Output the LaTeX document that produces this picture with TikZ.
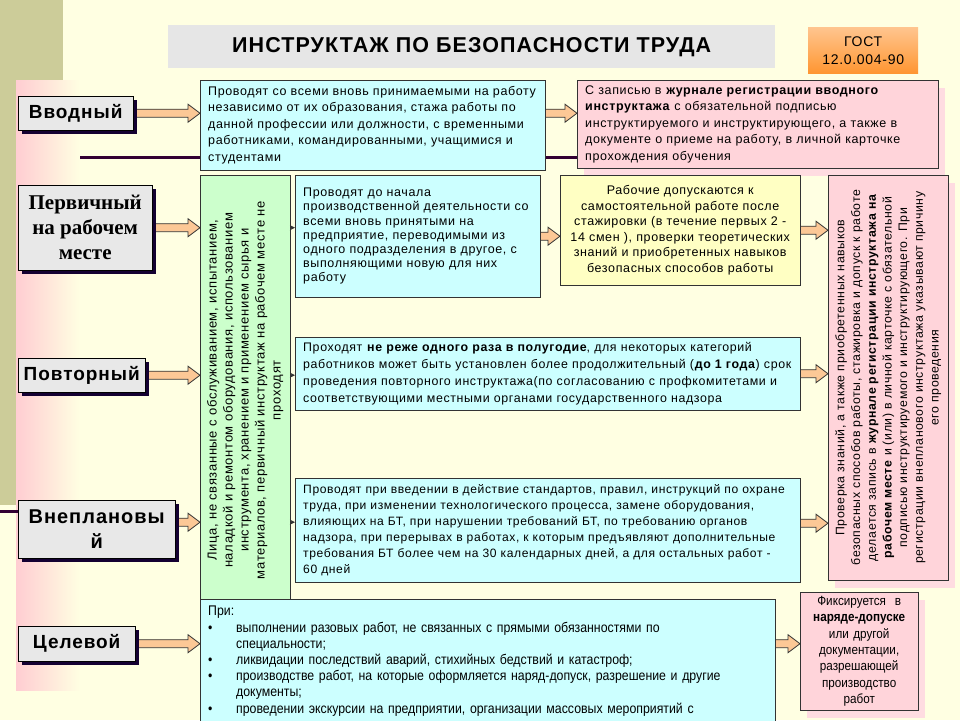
\documentclass[tikz,border=0pt]{standalone}
\usepackage{fontspec}
\setmainfont{Liberation Sans}[LetterSpace=5]
\newfontfamily\timesfont{Liberation Serif}
\newfontfamily\narrowfont[FakeStretch=0.88]{Liberation Sans}
\usepackage{tikz}
\usetikzlibrary{arrows.meta,positioning,calc,shadows}

\definecolor{PageBg}{RGB}{255,255,226}
\definecolor{Olive}{RGB}{204,204,153}
\definecolor{StripPink}{RGB}{255,205,210}
\definecolor{TitleGray}{RGB}{230,230,230}
\definecolor{GostOrange}{RGB}{255,150,50}
\definecolor{LabelGray}{RGB}{232,232,232}
\definecolor{ShadowNavy}{RGB}{20,0,50}
\definecolor{BoxCyan}{RGB}{204,255,255}
\definecolor{BoxPink}{RGB}{255,212,218}
\definecolor{PinkShade}{RGB}{255,220,225}
\definecolor{BoxGreen}{RGB}{204,255,204}
\definecolor{BoxYellow}{RGB}{255,255,195}
\definecolor{ArrowOrange}{RGB}{252,200,150}
\definecolor{EdgeDark}{RGB}{51,51,51}
\definecolor{LinePurple}{RGB}{51,0,51}

\pgfdeclarelayer{back}
\pgfdeclarelayer{links}
\pgfsetlayers{back,links,main}

% wide orange arrow between two points, same height as the first one
\newcommand{\blockarrow}[2]{%
  \draw[flow] let \p1=(#1), \p2=(#2) in
    (\x1,\y1+4pt) -- (\x2-12pt,\y1+4pt) -- (\x2-12pt,\y1+9pt) -- (\x2,\y1)
    -- (\x2-12pt,\y1-9pt) -- (\x2-12pt,\y1-4pt) -- (\x1,\y1-4pt) -- cycle;}

\begin{document}
\begin{tikzpicture}[
        x=1pt, y=-1pt,
        lbl/.style={draw=black, fill=LabelGray, anchor=north west, inner sep=0pt, align=center,
                    font=\fontsize{19}{23}\selectfont\bfseries,
                    drop shadow={shadow xshift=4pt, shadow yshift=-4pt, fill=ShadowNavy, opacity=1}},
        txt/.style={draw=EdgeDark, anchor=north west, inner xsep=8pt, inner ysep=0pt, align=left,
                    font=\fontsize{12.5}{16.5}\selectfont},
        pinkbox/.style={txt, fill=BoxPink,
                    drop shadow={shadow xshift=7pt, shadow yshift=-8pt, fill=PinkShade, opacity=1}},
        flow/.style={draw=EdgeDark, fill=ArrowOrange, line width=0.8pt},
        tip/.style={-{Stealth[length=5pt,width=5pt]}, EdgeDark, line width=0.8pt}
    ]
    \useasboundingbox (0,0) rectangle (960,720);

    % page decoration
    \begin{pgfonlayer}{back}
        \fill[PageBg] (0,0) rectangle (960,720);
        \fill[Olive] (0,0) rectangle (63,80);
        \fill[Olive] (0,80) rectangle (16,505);
        \shade[left color=StripPink, right color=PageBg] (16,80) rectangle (80,690);
        \draw[LinePurple, line width=3pt] (80,157) -- (577,157);
        \draw[LinePurple, line width=3pt] (0,511) -- (20,511);
    \end{pgfonlayer}

    % header
    \node[fill=TitleGray, anchor=north west, minimum width=607, minimum height=43,
          font=\fontsize{21.5}{24}\selectfont\bfseries] (title) at (168,25) {ИНСТРУКТАЖ ПО БЕЗОПАСНОСТИ ТРУДА};
    \node[top color=GostOrange!55, bottom color=GostOrange, anchor=north west, minimum width=110,
          minimum height=46, align=center, font=\fontsize{14}{18}\selectfont] (gost) at (808,27) {ГОСТ\\12.0.004-90};

    % kinds of instruction
    \node[lbl, minimum width=115, minimum height=34] (vvod) at (18,96) {Вводный};
    \node[lbl, minimum width=134, minimum height=85, font=\fontsize{21}{25}\selectfont\timesfont\bfseries]
          (perv) at (18,185) {Первичный\\на рабочем\\месте};
    \node[lbl, minimum width=127, minimum height=34] (povt) at (18,358) {Повторный};
    \node[lbl, minimum width=157, minimum height=58, font=\fontsize{20}{25}\selectfont\bfseries]
          (vnepl) at (18,500) {Внеплановы\\й};
    \node[lbl, minimum width=117, minimum height=35] (celev) at (18,626) {Целевой};

    % Вводный
    \node[txt, fill=BoxCyan, text width=329, minimum height=90] (c1) at (200,80)
        {Проводят со всеми вновь принимаемыми на работу\\
         независимо от их образования, стажа работы по\\
         данной профессии или должности, с временными\\
         работниками, командированными, учащимися и\\
         студентами};
    \node[pinkbox, text width=345, minimum height=88] (p1) at (577,80)
        {С записью в \textbf{журнале регистрации вводного}\\
         \textbf{инструктажа} с обязательной подписью\\
         инструктируемого и инструктирующего, а также в\\
         документе о приеме на работу, в личной карточке\\
         прохождения обучения};

    % exempt persons
    \node[txt, fill=BoxGreen, minimum width=90, minimum height=430, inner sep=0pt, align=center] (green) at (200,175)
        {\rotatebox{90}{\parbox{420pt}{\centering\fontsize{13}{16}\selectfont
         Лица, не связанные с обслуживанием, испытанием,\\
         наладкой и ремонтом оборудования, использованием\\
         инструмента, хранением и применением сырья и\\
         материалов, первичный инструктаж на рабочем месте не\\
         проходят}}};

    % Первичный
    \node[txt, fill=BoxCyan, text width=229, minimum height=122, font=\fontsize{12.5}{14.2}\selectfont] (c2) at (295,175)
        {Проводят до начала\\
         производственной деятельности со\\
         всеми вновь принятыми на\\
         предприятие, переводимыми из\\
         одного подразделения в другое, с\\
         выполняющими новую для них\\
         работу};
    \node[txt, fill=BoxYellow, text width=224, minimum height=110, align=center, font=\fontsize{12.5}{15.6}\selectfont]
        (stag) at (560,175)
        {Рабочие допускаются к\\
         самостоятельной работе после\\
         стажировки (в течение первых 2 -\\
         14 смен ), проверки теоретических\\
         знаний и приобретенных навыков\\
         безопасных способов работы};
    \node[pinkbox, minimum width=120, minimum height=405, inner sep=0pt, align=center] (pv) at (828,175)
        {\rotatebox{90}{\parbox{395pt}{\centering\fontsize{12.3}{15.7}\selectfont
         Проверка знаний, а также приобретенных навыков\\
         безопасных способов работы, стажировка и допуск к работе\\
         делается запись в \textbf{журнале регистрации инструктажа на}\\
         \textbf{рабочем месте} и (или) в личной карточке с обязательной\\
         подписью инструктируемого и инструктирующего. При\\
         регистрации внепланового инструктажа указывают причину\\
         его проведения}}};

    % Повторный
    \node[txt, fill=BoxCyan, text width=489, minimum height=73, font=\fontsize{12.4}{16.8}\selectfont] (c3) at (295,337)
        {Проходят \textbf{не реже одного раза в полугодие}, для некоторых категорий\\
         работников может быть установлен более продолжительный (\textbf{до 1 года}) срок\\
         проведения повторного инструктажа(по согласованию с профкомитетами и\\
         соответствующими местными органами государственного надзора};

    % Внеплановый
    \node[txt, fill=BoxCyan, text width=489, minimum height=104, font=\fontsize{12.1}{16}\selectfont] (c4) at (295,478)
        {Проводят при введении в действие стандартов, правил, инструкций по охране\\
         труда, при изменении технологического процесса, замене оборудования,\\
         влияющих на БТ, при нарушении требований БТ, по требованию органов\\
         надзора, при перерывах в работах, к которым предъявляют дополнительные\\
         требования БТ более чем на 30 календарных дней, а для остальных работ -\\
         60 дней};

    % Целевой
    \node[txt, fill=BoxCyan, text width=559, minimum height=124, anchor=north west,
          font=\fontsize{14}{16.2}\selectfont\narrowfont] (c5) at (200,599)
        {При:\\
         \makebox[28pt][l]{•}выполнении разовых работ, не связанных с прямыми обязанностями по\\
         \hspace*{28pt}специальности;\\
         \makebox[28pt][l]{•}ликвидации последствий аварий, стихийных бедствий и катастроф;\\
         \makebox[28pt][l]{•}производстве работ, на которые оформляется наряд-допуск, разрешение и другие\\
         \hspace*{28pt}документы;\\
         \makebox[28pt][l]{•}проведении экскурсии на предприятии, организации массовых мероприятий с};
    \node[pinkbox, text width=102, minimum height=118, align=center, font=\fontsize{13.3}{16.4}\selectfont\narrowfont]
        (p5) at (800,592)
        {Фиксируется\ \ в\\ \textbf{наряде-допуске}\\ или другой\\ документации,\\ разрешающей\\ производство\\ работ};

    % connector ends for the Внеплановый row
    \coordinate (vneplout) at ([yshift=7pt]vnepl.east);
    \coordinate (c4out) at ([yshift=7pt]c4.east);

    % connectors
    \begin{pgfonlayer}{links}
        \blockarrow{vvod.east}{c1.west |- vvod.east}
        \blockarrow{c1.east |- vvod.east}{p1.west |- vvod.east}
        \blockarrow{perv.east}{green.west |- perv.east}
        \blockarrow{c2.east}{stag.west |- c2.east}
        \blockarrow{stag.east}{pv.west |- stag.east}
        \blockarrow{povt.east}{green.west |- povt.east}
        \blockarrow{c3.east}{pv.west |- c3.east}
        \blockarrow{vneplout}{green.west |- vneplout}
        \blockarrow{c4out}{pv.west |- c4out}
        \blockarrow{celev.east}{c5.west |- celev.east}
        \blockarrow{c5.east |- celev.east}{p5.west |- celev.east}
    \end{pgfonlayer}
    \draw[tip] (green.east |- perv.east) -- (c2.west |- perv.east);
    \draw[tip] (green.east |- povt.east) -- (c3.west |- povt.east);
    \draw[tip] (green.east |- vneplout) -- (c4.west |- vneplout);
\end{tikzpicture}
\end{document}
